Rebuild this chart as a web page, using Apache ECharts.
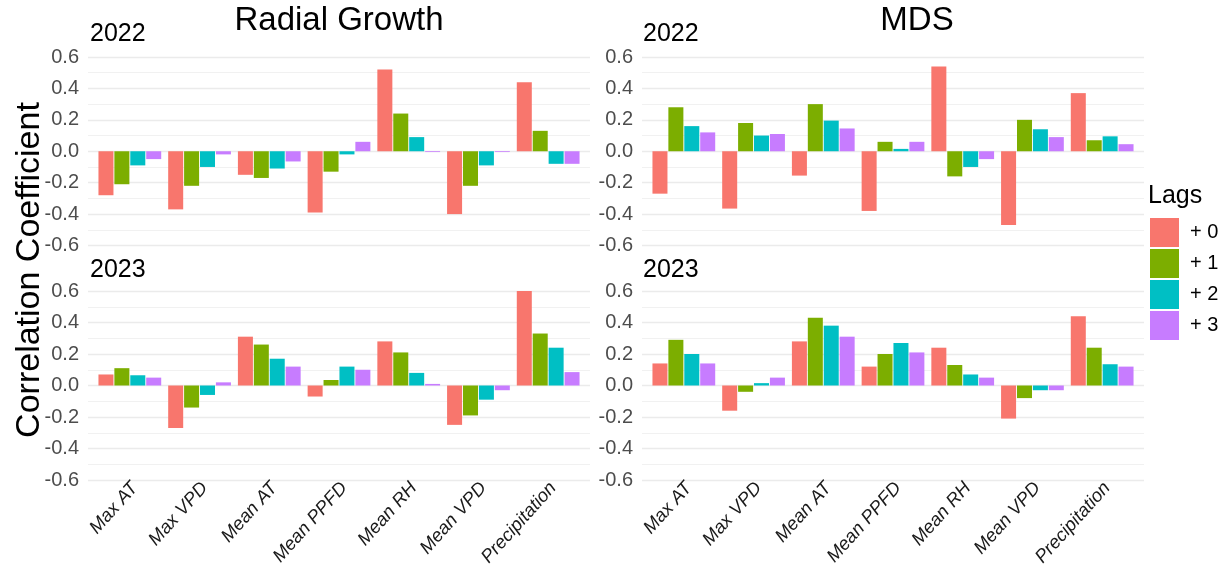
<!DOCTYPE html>
<html>
<head>
<meta charset="utf-8">
<script src="https://cdn.jsdelivr.net/npm/echarts@6/dist/echarts.min.js"></script>
<style>
  html, body { margin: 0; padding: 0; background: #fff; }
  #chart { width: 1228px; height: 571px; }
</style>
</head>
<body>
<div id="chart"></div>
<script>
// Climate variables on the x axis of every panel
const categories = ['Max AT', 'Max VPD', 'Mean AT', 'Mean PPFD', 'Mean RH', 'Mean VPD', 'Precipitation'];
const lags = ['+ 0', '+ 1', '+ 2', '+ 3'];
const lagColors = ['#F8766D', '#7CAE00', '#00BFC4', '#C77CFF'];
const yTicks = { min: -0.6, max: 0.6, step: 0.2 };

// Correlation coefficients, one row per lag (+0 .. +3), one value per variable
const radialGrowth2022 = [
  [-0.28, -0.37, -0.15, -0.39, 0.52, -0.40, 0.44],
  [-0.21, -0.22, -0.17, -0.13, 0.24, -0.22, 0.13],
  [-0.09, -0.10, -0.11, -0.02, 0.09, -0.09, -0.08],
  [-0.05, -0.02, -0.065, 0.06, -0.005, -0.005, -0.08]
];
const radialGrowth2023 = [
  [0.07, -0.27, 0.31, -0.07, 0.28, -0.25, 0.60],
  [0.11, -0.14, 0.26, 0.035, 0.21, -0.19, 0.33],
  [0.065, -0.06, 0.17, 0.12, 0.08, -0.09, 0.24],
  [0.05, 0.02, 0.12, 0.10, 0.01, -0.03, 0.085]
];
const mds2022 = [
  [-0.27, -0.365, -0.155, -0.38, 0.54, -0.47, 0.37],
  [0.28, 0.18, 0.30, 0.06, -0.16, 0.20, 0.07],
  [0.16, 0.10, 0.195, 0.015, -0.10, 0.14, 0.095],
  [0.12, 0.11, 0.145, 0.06, -0.05, 0.09, 0.045]
];
const mds2023 = [
  [0.14, -0.16, 0.28, 0.12, 0.24, -0.21, 0.44],
  [0.29, -0.04, 0.43, 0.20, 0.13, -0.08, 0.24],
  [0.20, 0.015, 0.38, 0.27, 0.07, -0.03, 0.135],
  [0.14, 0.05, 0.31, 0.21, 0.05, -0.03, 0.12]
];

const FONT = '"Liberation Sans", Arial, sans-serif';

// Panel layout: full-width background grid (gridlines + tick labels) plus an inset data grid
const panels = [
  { data: radialGrowth2022, left: 88,  top: 57,  height: 188.5, showX: false },
  { data: radialGrowth2023, left: 88,  top: 291, height: 189,   showX: true  },
  { data: mds2022,          left: 642, top: 57,  height: 188.5, showX: false },
  { data: mds2023,          left: 642, top: 291, height: 189,   showX: true  }
];
const PANEL_W = 502;
const UNIT = PANEL_W / 7.2;          // width of one category step
const INSET = 0.1 * UNIT;            // discrete-axis expansion beyond the outer bands
const LABEL_SHIFT = 5;               // rotated labels hang from their top-right corner

const grid = [], xAxis = [], yAxis = [], series = [];

panels.forEach((p) => grid.push({ left: p.left, top: p.top, width: PANEL_W, height: p.height }));
panels.forEach((p) => grid.push({ left: p.left + INSET, top: p.top, width: 7 * UNIT, height: p.height }));
const labelPanels = panels.filter((p) => p.showX);
labelPanels.forEach((p) => grid.push({ left: p.left + INSET + LABEL_SHIFT, top: p.top, width: 7 * UNIT, height: p.height }));

// background axes: gridlines and tick labels
panels.forEach((p, i) => {
  xAxis.push({ gridIndex: i, type: 'category', data: categories, show: false });
  yAxis.push({
    gridIndex: i, type: 'value', min: yTicks.min, max: yTicks.max, interval: yTicks.step,
    axisLine: { show: false }, axisTick: { show: false },
    axisLabel: {
      color: '#4d4d4d', fontSize: 20, fontFamily: FONT, margin: 9,
      formatter: (v) => v.toFixed(1)
    },
    splitLine: { show: true, lineStyle: { color: '#ebebeb', width: 1.3 } },
    minorTick: { show: false, splitNumber: 2 },
    minorSplitLine: { show: true, lineStyle: { color: '#f1f1f1', width: 1 } }
  });
});

// data axes
panels.forEach((p, i) => {
  const gi = i + 4;
  xAxis.push({
    gridIndex: gi, type: 'category', data: categories,
    axisLine: { show: false, onZero: false }, axisTick: { show: false },
    splitLine: { show: false }, axisLabel: { show: false }
  });
  yAxis.push({
    gridIndex: gi, type: 'value', min: yTicks.min, max: yTicks.max, interval: yTicks.step,
    show: false, splitLine: { show: false }
  });
  p.data.forEach((vals, k) => {
    series.push({
      type: 'bar', name: lags[k], xAxisIndex: gi, yAxisIndex: gi,
      data: vals, barCategoryGap: '10%', barGap: '6%',
      itemStyle: { color: lagColors[k] },
      animation: false
    });
  });
});

// category label axes under the bottom row
labelPanels.forEach((p, j) => {
  const gi = 8 + j;
  xAxis.push({
    gridIndex: gi, type: 'category', data: categories,
    axisLine: { show: false, onZero: false }, axisTick: { show: false },
    splitLine: { show: false },
    axisLabel: {
      rotate: 48, interval: 0, margin: 5,
      fontSize: 18.5, fontStyle: 'italic', fontFamily: FONT, color: '#1a1a1a'
    }
  });
  yAxis.push({ gridIndex: gi, type: 'value', min: yTicks.min, max: yTicks.max, show: false, splitLine: { show: false } });
});

const text = (t, x, y, size, extra) => ({
  type: 'text', x, y,
  style: Object.assign({ text: t, fill: '#000', font: size + 'px ' + FONT,
    textAlign: 'left', textVerticalAlign: 'middle' }, extra || {})
});

const option = {
  backgroundColor: '#fff',
  animation: false,
  grid, xAxis, yAxis, series,
  legend: {
    data: lags, orient: 'vertical', left: 1150, top: 218, padding: 0,
    icon: 'rect', itemWidth: 29, itemHeight: 29, itemGap: 2,
    textStyle: { fontSize: 20, fontFamily: FONT, color: '#000', padding: [0, 0, 0, 6] },
    selectedMode: false
  },
  graphic: [
    text('Radial Growth', 339, 21, 33, { textAlign: 'center' }),
    text('MDS', 917, 21, 33, { textAlign: 'center' }),
    text('2022', 90, 34, 25),
    text('2023', 90, 270, 25),
    text('2022', 643, 34, 25),
    text('2023', 643, 270, 25),
    text('Lags', 1148, 196, 25),
    {
      type: 'text', x: 30, y: 270, rotation: Math.PI / 2,
      style: { text: 'Correlation Coefficient', fill: '#000', font: '34px ' + FONT,
        textAlign: 'center', textVerticalAlign: 'middle' }
    }
  ]
};

const chart = echarts.init(document.getElementById('chart'), null, { renderer: 'canvas' });
chart.setOption(option);
</script>
</body>
</html>
